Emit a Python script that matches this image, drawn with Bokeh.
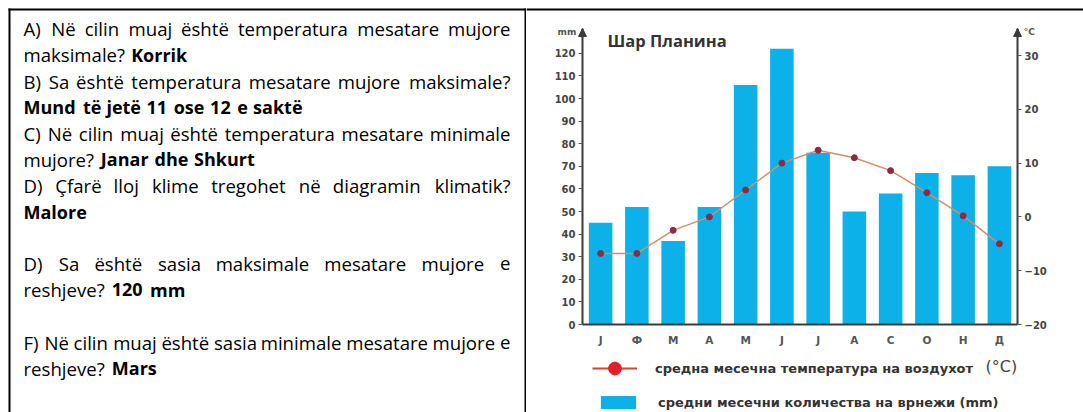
from bokeh.plotting import figure
from bokeh.models import (Range1d, LinearAxis, FixedTicker, Label, Legend, LegendItem,
                          Arrow, NormalHead, BoxAnnotation, ColumnDataSource)
from bokeh.layouts import row
from bokeh.embed import file_html
from bokeh.resources import INLINE
from bokeh.core.properties import value

# ---------------- data ----------------
months = ["Ј", "Ф", "М", "А", "М", "Ј", "Ј", "А", "С", "О", "Н", "Д"]
precip_mm = [45, 52, 37, 52, 106, 122, 76, 50, 58, 67, 66, 70]
temp_c = [-6.8, -6.8, -2.5, 0, 5, 10, 12.4, 11, 8.6, 4.5, 0.2, -5]
mm_ticks = [0, 10, 20, 30, 40, 50, 60, 70, 80, 90, 100, 110, 120]
temp_ticks = [-20, -10, 0, 10, 20, 30]
chart_title = "Шар Планина"
legend_temp = "средна месечна температура на воздухот"
legend_prec = "средни месечни количества на врнежи (mm)"

# question text: regular part, bold part, justified?, line number
qa_regular = ["A) Në cilin muaj është temperatura mesatare mujore", "maksimale?",
              "B) Sa është temperatura mesatare mujore maksimale?", "",
              "C) Në cilin muaj është temperatura mesatare minimale", "mujore?",
              "D) Çfarë lloj klime tregohet në diagramin klimatik?", "",
              "D) Sa është sasia maksimale mesatare mujore e", "reshjeve?",
              "F) Në cilin muaj është sasia minimale mesatare mujore e", "reshjeve?"]
qa_bold = ["", "Korrik", "", "Mund të jetë 11 ose 12 e saktë", "", "Janar dhe Shkurt",
           "", "Malore", "", "120 mm", "", "Mars"]
qa_justified = [True, False, True, False, True, False, True, False, True, False, True, False]
qa_line_no = [0, 1, 2, 3, 4, 5, 6, 7, 9, 10, 12, 13]

# ---------------- page geometry (pixels) ----------------
PAGE_W, PAGE_H = 1083, 412
SPLIT = 526                        # x where the chart cell begins

# ---------------- text panel ----------------
CAL = dict(a=.479, b=.525, c=.423, d=.525, e=.498, f=.305, g=.471, h=.525, i=.229, j=.239,
           k=.455, l=.229, m=.799, n=.525, o=.527, p=.525, q=.525, r=.349, s=.391, t=.335,
           u=.525, v=.452, w=.715, x=.433, y=.453, z=.395)
CAL.update({"ë": .498, "ç": .423, "A": .579, "B": .544, "C": .533, "D": .615, "F": .459,
            "J": .319, "K": .520, "M": .855, "N": .646, "S": .459, "Ç": .533, ")": .303,
            "?": .463, " ": .226, "0": .507, "1": .507, "2": .507})
CALB = dict(CAL)
CALB.update(dict(a=.494, b=.537, c=.418, d=.537, e=.503, h=.537, i=.246, j=.255, k=.480,
                 l=.246, m=.813, n=.537, o=.538, r=.355, s=.399, t=.347, u=.537, v=.473))
CALB.update({"ë": .503, "K": .537, "M": .874, "J": .347, "S": .473})
REF = 21.33
LEFT, RIGHT = 23.0, 510.0
BASE0, LINE_H = 28.3, 26.1


def wlen(w, bold):
    tb = CALB if bold else CAL
    return sum(tb.get(ch, 0.5) for ch in w) * REF * (1.03 if bold else 1.0)


reg = dict(x=[], y=[], t=[], a=[])
bld = dict(x=[], y=[], t=[], a=[])
for r_txt, b_txt, just, ln in zip(qa_regular, qa_bold, qa_justified, qa_line_no):
    words = [(w, False) for w in r_txt.split()] + [(w, True) for w in b_txt.split()]
    yb = BASE0 + LINE_H * ln
    widths = [wlen(w, b) for w, b in words]
    if just and len(words) > 1:
        gap = (RIGHT - LEFT - sum(widths)) / (len(words) - 1)
    else:
        gap = 0.226 * REF
    xx = LEFT
    for k, ((w, b), wd) in enumerate(zip(words, widths)):
        d = bld if b else reg
        if just and k == len(words) - 1:
            d["x"].append(RIGHT); d["a"].append("right")
        else:
            d["x"].append(xx); d["a"].append("left")
        d["y"].append(yb); d["t"].append(w)
        xx += wd + gap

tp = figure(width=SPLIT, height=PAGE_H, x_range=Range1d(0, SPLIT),
            y_range=Range1d(PAGE_H, 0), output_backend="svg",
            toolbar_location=None, min_border=0)
tp.axis.visible = False
tp.grid.visible = False
tp.outline_line_color = None
for src, style, size in ((reg, "normal", "18.6px"), (bld, "bold", "18px")):
    tp.text(x="x", y="y", text="t", text_align="a", source=ColumnDataSource(src),
            text_font=value("Open Sans"), text_font_size=value(size),
            text_font_style=style, text_color="#000000", text_baseline="alphabetic")
tp.segment(x0=[9, 8, 525], y0=[8, 9, 8], x1=[9, 526, 525],
           y1=[PAGE_H, 9, PAGE_H], line_color="#000000", line_width=2)

# ---------------- chart panel ----------------
# plot area in page pixels: axis x 582..1017 (12 months), y 324 (0 mm / -20 C) .. 28
AX_L, AX_R, AX_B = 582.0, 1017.0, 324.0
PX_MONTH = (AX_R - AX_L) / 12
PX_MM = 2.26
PX_C = 5.38
xr = Range1d((SPLIT - AX_L) / PX_MONTH, (PAGE_W - AX_L) / PX_MONTH)
yr = Range1d((AX_B - PAGE_H) / PX_MM, AX_B / PX_MM)
tr = Range1d(-20 + (AX_B - PAGE_H) / PX_C, -20 + AX_B / PX_C)
MM_TOP = (AX_B - 28) / PX_MM

BAR = "#0db1e9"
AX = "#3a3a3a"
NAN = float("nan")
xs = [i + 0.5 for i in range(len(months))]
p = figure(width=PAGE_W - SPLIT, height=PAGE_H, x_range=xr, y_range=yr,
           output_backend="svg", toolbar_location=None, min_border=0)
p.grid.visible = False
p.outline_line_color = None
p.extra_y_ranges = {"temp": tr}

p.vbar(x=xs, top=precip_mm, width=0.65, fill_color=BAR, line_color=None)
p.line(x=xs, y=temp_c, y_range_name="temp", line_color="#cf8f6d", line_width=1.5)
p.scatter(x=xs, y=temp_c, y_range_name="temp", size=6, fill_color="#8a2c46",
          line_color="#8a2c46")


def style_axis(ax, size="10px"):
    ax.axis_line_color = AX
    ax.axis_line_width = 2
    ax.major_tick_line_color = "#555555"
    ax.major_tick_in = 0
    ax.major_tick_out = 4
    ax.minor_tick_line_color = None
    ax.major_label_text_font = "DejaVu Sans"
    ax.major_label_text_font_style = "bold"
    ax.major_label_text_font_size = size
    ax.major_label_text_color = "#444444"
    ax.major_label_standoff = 3


ly = p.yaxis[0]
ly.ticker = FixedTicker(ticks=mm_ticks)
ly.fixed_location = 0
ly.bounds = (0, MM_TOP)
style_axis(ly)
ry = LinearAxis(y_range_name="temp", ticker=FixedTicker(ticks=temp_ticks),
                fixed_location=12, bounds=(-20, -20 + (AX_B - 28) / PX_C))
style_axis(ry)
p.add_layout(ry, "right")
bx = p.xaxis[0]
bx.ticker = FixedTicker(ticks=xs)
bx.major_label_overrides = {x: m for x, m in zip(xs, months)}
bx.fixed_location = 0
bx.bounds = (0, 12)
style_axis(bx, "10.5px")
bx.major_tick_line_color = None
bx.major_label_standoff = 5
bx.major_label_text_color = "#555555"

for xa in (0, 12):
    p.add_layout(Arrow(end=NormalHead(size=8, fill_color=AX, line_color=AX),
                       x_start=xa, y_start=MM_TOP - 4, x_end=xa, y_end=MM_TOP,
                       line_color=AX, line_width=2))

p.add_layout(Label(x=0.69, y=125.7, text=chart_title, text_font="Open Sans",
                   text_font_style="bold", text_font_size="16.5px", text_color="#333333",
                   text_baseline="middle"))
p.add_layout(Label(x=-0.17, y=129.5, text="mm", text_font="DejaVu Sans",
                   text_font_style="bold", text_font_size="9px", text_color="#555555",
                   text_align="right", text_baseline="middle"))
p.add_layout(Label(x=12.17, y=129.5, text="°C", text_font="DejaVu Sans",
                   text_font_style="bold", text_font_size="9px", text_color="#555555",
                   text_align="left", text_baseline="middle"))

# legend proxies (no visible data; only their legend glyphs are drawn)
leg_line = p.line(x=[NAN, NAN], y=[NAN, NAN], line_color="#d8432f", line_width=2)
leg_dot = p.scatter(x=[NAN], y=[NAN], size=13, fill_color="#e01f2b", line_color="#e01f2b")
leg_bar = p.vbar(x=[NAN], top=[NAN], width=0.65, fill_color=BAR, line_color=None)
common = dict(padding=0, margin=0, border_line_color=None, background_fill_alpha=0,
              label_text_font="DejaVu Sans", label_text_font_style="bold",
              label_text_font_size="13px", label_text_color="#333333")
lg1 = Legend(items=[LegendItem(label=legend_temp, renderers=[leg_line, leg_dot])],
             location=(592 - SPLIT, PAGE_H - 384), glyph_width=45, glyph_height=32,
             label_height=32, label_standoff=18, **common)
lg2 = Legend(items=[LegendItem(label=legend_prec, renderers=[leg_bar])],
             location=(596 - SPLIT, PAGE_H - 410), glyph_width=44, glyph_height=16,
             label_height=16, label_standoff=18, **common)
p.add_layout(lg1, "center")
p.add_layout(lg2, "center")
p.add_layout(Label(x=(985 - AX_L) / PX_MONTH, y=(AX_B - 366) / PX_MM, text="(°C)",
                   text_font="DejaVu Sans", text_font_size="16px", text_color="#444444",
                   text_baseline="middle"))

# top border of the chart cell
p.add_layout(BoxAnnotation(left=xr.start, right=xr.end, top=(AX_B - 8) / PX_MM,
                           bottom=(AX_B - 10) / PX_MM, fill_color="#000000", fill_alpha=1,
                           line_color=None))

layout = row(tp, p)
open("out.html", "w").write(file_html(layout, INLINE))
